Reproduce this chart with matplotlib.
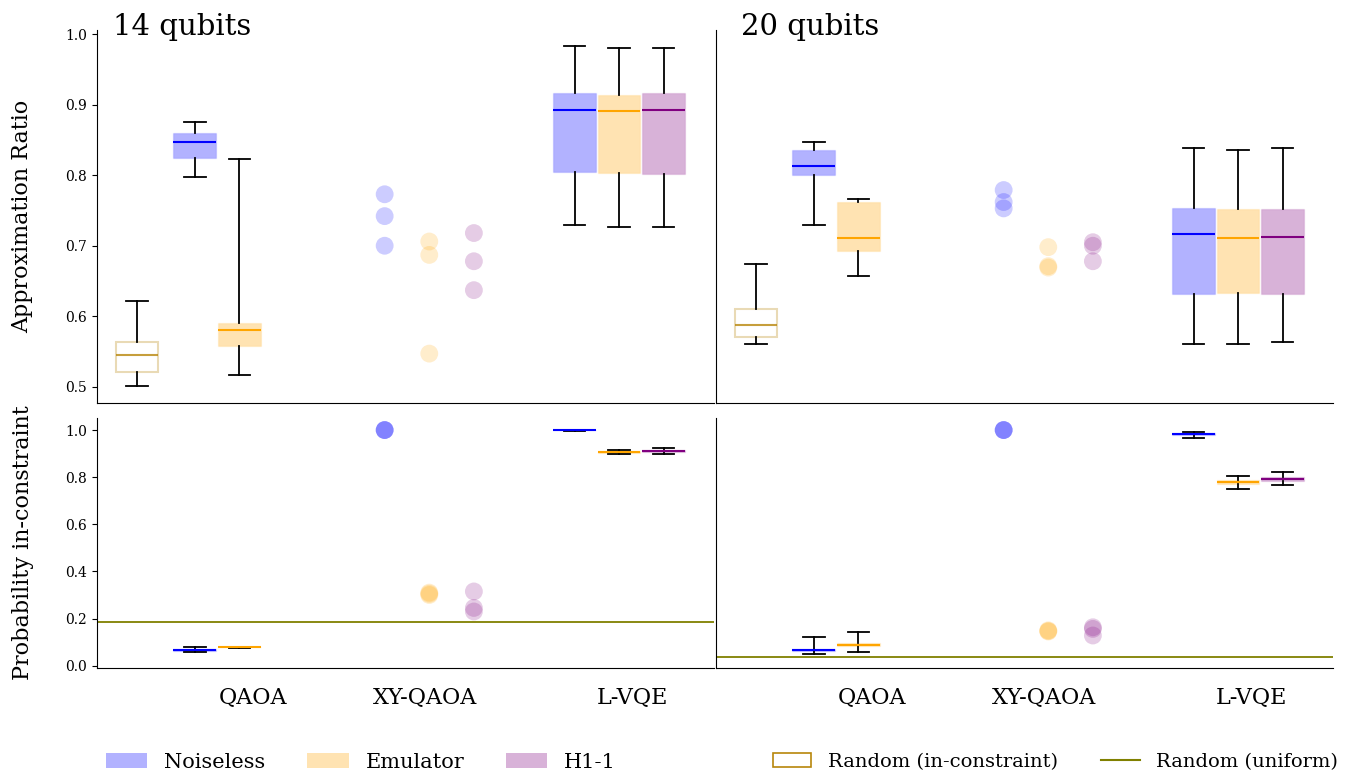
import matplotlib
matplotlib.use("Agg")
import matplotlib.pyplot as plt
from matplotlib.patches import Patch
from matplotlib.lines import Line2D
from matplotlib.colors import to_rgba

plt.rcParams.update({"font.family": "DejaVu Serif", "font.size": 11})

# -- Data --
CATEGORIES = ["QAOA", "XY-QAOA", "L-VQE"]
POS = [1, 2, 3]
TICK_POS = [1.07, 1.98, 3.07]

# five numbers per box: whislo, q1, med, q3, whishi
# 14 qubits, approximation ratio
ar14_random = [0.501, 0.521, 0.545, 0.563, 0.621]
ar14_qaoa_noiseless = [0.797, 0.825, 0.847, 0.860, 0.875]
ar14_qaoa_emulator = [0.516, 0.558, 0.581, 0.590, 0.823]
ar14_xy_noiseless = [0.773, 0.742, 0.700]
ar14_xy_emulator = [0.706, 0.687, 0.547]
ar14_xy_h1 = [0.718, 0.678, 0.637]
ar14_lvqe_noiseless = [0.730, 0.804, 0.893, 0.917, 0.983]
ar14_lvqe_emulator = [0.727, 0.803, 0.891, 0.914, 0.980]
ar14_lvqe_h1 = [0.727, 0.802, 0.892, 0.917, 0.980]

# 20 qubits, approximation ratio
ar20_random = [0.560, 0.570, 0.588, 0.610, 0.674]
ar20_qaoa_noiseless = [0.729, 0.801, 0.813, 0.836, 0.847]
ar20_qaoa_emulator = [0.657, 0.692, 0.711, 0.762, 0.766]
ar20_xy_noiseless = [0.779, 0.762, 0.753]
ar20_xy_emulator = [0.698, 0.671, 0.669]
ar20_xy_h1 = [0.705, 0.700, 0.678]
ar20_lvqe_noiseless = [0.560, 0.631, 0.716, 0.754, 0.839]
ar20_lvqe_emulator = [0.561, 0.633, 0.711, 0.752, 0.836]
ar20_lvqe_h1 = [0.563, 0.632, 0.713, 0.752, 0.838]

# 14 qubits, probability in-constraint
pc14_qaoa_noiseless = [0.058, 0.064, 0.068, 0.072, 0.079]
pc14_qaoa_emulator = [0.077, 0.078, 0.079, 0.080, 0.081]
pc14_xy_noiseless = [1.0, 1.0, 1.0]
pc14_xy_emulator = [0.300, 0.305, 0.310]
pc14_xy_h1 = [0.315, 0.245, 0.230]
pc14_lvqe_noiseless = [0.998, 0.999, 1.0, 1.0, 1.0]
pc14_lvqe_emulator = [0.900, 0.904, 0.906, 0.909, 0.915]
pc14_lvqe_h1 = [0.899, 0.906, 0.911, 0.915, 0.924]
pc14_uniform = 0.185

# 20 qubits, probability in-constraint
pc20_qaoa_noiseless = [0.050, 0.062, 0.066, 0.070, 0.123]
pc20_qaoa_emulator = [0.058, 0.082, 0.089, 0.095, 0.144]
pc20_xy_noiseless = [1.0, 1.0, 1.0]
pc20_xy_emulator = [0.145, 0.147, 0.150]
pc20_xy_h1 = [0.163, 0.156, 0.128]
pc20_lvqe_noiseless = [0.967, 0.980, 0.984, 0.988, 0.991]
pc20_lvqe_emulator = [0.750, 0.772, 0.781, 0.790, 0.805]
pc20_lvqe_h1 = [0.767, 0.783, 0.791, 0.800, 0.822]
pc20_uniform = 0.038

# -- Style --
C_NOISELESS = "blue"
C_EMULATOR = "orange"
C_H1 = "purple"
C_RANDOM = "darkgoldenrod"
C_UNIFORM = "olive"
OFF = 0.235
OFF_RANDOM = -0.54
W = 0.225


def box(ax, five, x, color, random=False):
    st = dict(whislo=five[0], q1=five[1], med=five[2], q3=five[3],
              whishi=five[4], fliers=[])
    if random:
        bp = dict(facecolor="white", edgecolor=to_rgba(color, 0.3), linewidth=1.5)
        mp = dict(color=to_rgba(color, 0.8), linewidth=1.5)
    else:
        bp = dict(facecolor=to_rgba(color, 0.3), edgecolor=to_rgba(color, 0.1),
                  linewidth=1)
        mp = dict(color=color, linewidth=1.5)
    ax.bxp([st], positions=[x], widths=W, patch_artist=True, showfliers=False,
           boxprops=bp, medianprops=mp,
           whiskerprops=dict(color="black", linewidth=1.3),
           capprops=dict(color="black", linewidth=1.3),
           manage_ticks=False)


def dots(ax, vals, x, color):
    ax.scatter([x] * len(vals), vals, s=165, color=color, alpha=0.2,
               edgecolors="none", zorder=3)


fig = plt.figure(figsize=(13.48, 7.73), dpi=100)
L, WID = 0.0720, 0.4577
X2 = 0.5312
TOP_B, TOP_H = 0.4787, 0.4825
BOT_B, BOT_H = 0.1358, 0.3234

ax_tl = fig.add_axes([L, TOP_B, WID, TOP_H])
ax_tr = fig.add_axes([X2, TOP_B, WID, TOP_H])
ax_bl = fig.add_axes([L, BOT_B, WID, BOT_H])
ax_br = fig.add_axes([X2, BOT_B, WID, BOT_H])

# top panels
for ax, rnd, qn, qe, xn, xe, xh, ln, le, lh in [
    (ax_tl, ar14_random, ar14_qaoa_noiseless, ar14_qaoa_emulator,
     ar14_xy_noiseless, ar14_xy_emulator, ar14_xy_h1,
     ar14_lvqe_noiseless, ar14_lvqe_emulator, ar14_lvqe_h1),
    (ax_tr, ar20_random, ar20_qaoa_noiseless, ar20_qaoa_emulator,
     ar20_xy_noiseless, ar20_xy_emulator, ar20_xy_h1,
     ar20_lvqe_noiseless, ar20_lvqe_emulator, ar20_lvqe_h1),
]:
    box(ax, rnd, POS[0] + OFF_RANDOM, C_RANDOM, random=True)
    box(ax, qn, POS[0] - OFF, C_NOISELESS)
    box(ax, qe, POS[0], C_EMULATOR)
    dots(ax, xn, POS[1] - OFF, C_NOISELESS)
    dots(ax, xe, POS[1], C_EMULATOR)
    dots(ax, xh, POS[1] + OFF, C_H1)
    box(ax, ln, POS[2] - OFF, C_NOISELESS)
    box(ax, le, POS[2], C_EMULATOR)
    box(ax, lh, POS[2] + OFF, C_H1)
    ax.set_ylim(0.477, 1.006)

# bottom panels
for ax, qn, qe, xn, xe, xh, ln, le, lh, uni in [
    (ax_bl, pc14_qaoa_noiseless, pc14_qaoa_emulator,
     pc14_xy_noiseless, pc14_xy_emulator, pc14_xy_h1,
     pc14_lvqe_noiseless, pc14_lvqe_emulator, pc14_lvqe_h1, pc14_uniform),
    (ax_br, pc20_qaoa_noiseless, pc20_qaoa_emulator,
     pc20_xy_noiseless, pc20_xy_emulator, pc20_xy_h1,
     pc20_lvqe_noiseless, pc20_lvqe_emulator, pc20_lvqe_h1, pc20_uniform),
]:
    box(ax, qn, POS[0] - OFF, C_NOISELESS)
    box(ax, qe, POS[0], C_EMULATOR)
    dots(ax, xn, POS[1] - OFF, C_NOISELESS)
    dots(ax, xe, POS[1], C_EMULATOR)
    dots(ax, xh, POS[1] + OFF, C_H1)
    box(ax, ln, POS[2] - OFF, C_NOISELESS)
    box(ax, le, POS[2], C_EMULATOR)
    box(ax, lh, POS[2] + OFF, C_H1)
    ax.axhline(uni, color=C_UNIFORM, linewidth=1.3)
    ax.set_ylim(-0.01, 1.051)

for ax in [ax_tl, ax_tr, ax_bl, ax_br]:
    ax.set_xlim(0.25, 3.5)
    ax.spines["top"].set_visible(False)
    ax.spines["right"].set_visible(False)

for ax in [ax_tl, ax_tr]:
    ax.set_xticks([])

for ax in [ax_bl, ax_br]:
    ax.set_xticks(TICK_POS)
    ax.set_xticklabels(CATEGORIES, fontsize=16)
    ax.tick_params(axis="x", length=0, pad=14)

for ax in [ax_tr, ax_br]:
    ax.set_yticks([])

ax_tl.set_yticks([0.5, 0.6, 0.7, 0.8, 0.9, 1.0])
ax_bl.set_yticks([0.0, 0.2, 0.4, 0.6, 0.8, 1.0])
for ax in [ax_tl, ax_bl]:
    ax.tick_params(axis="y", labelsize=10)

ax_tl.set_ylabel("Approximation Ratio", fontsize=16)
ax_bl.set_ylabel("Probability in-constraint", fontsize=16)
ax_tl.yaxis.set_label_coords(-0.103, 0.5)
ax_bl.yaxis.set_label_coords(-0.103, 0.5)

ax_tl.text(0.026, 0.987, "14 qubits", transform=ax_tl.transAxes, fontsize=21,
           va="baseline")
ax_tr.text(0.040, 0.987, "20 qubits", transform=ax_tr.transAxes, fontsize=21,
           va="baseline")

# legends: methods on the left, random baselines on the right
handles_methods = [
    Patch(facecolor=to_rgba(C_NOISELESS, 0.3), edgecolor="none"),
    Patch(facecolor=to_rgba(C_EMULATOR, 0.3), edgecolor="none"),
    Patch(facecolor=to_rgba(C_H1, 0.3), edgecolor="none"),
]
labels_methods = ["Noiseless", "Emulator", "H1-1"]
handles_random = [
    Patch(facecolor="white", edgecolor=C_RANDOM, linewidth=1.2),
    Line2D([], [], color=C_UNIFORM, linewidth=1.5),
]
labels_random = ["Random (in-constraint)", "Random (uniform)"]

fig.legend(handles_methods, labels_methods, loc="center left",
           bbox_to_anchor=(0.0646, 0.0142), ncol=3, frameon=False, fontsize=15)
fig.legend(handles_random, labels_random, loc="center right",
           bbox_to_anchor=(1.0056, 0.0142), ncol=2, frameon=False, fontsize=14,
           columnspacing=2.2, handletextpad=0.85)

fig.savefig("out.png", dpi=100)
